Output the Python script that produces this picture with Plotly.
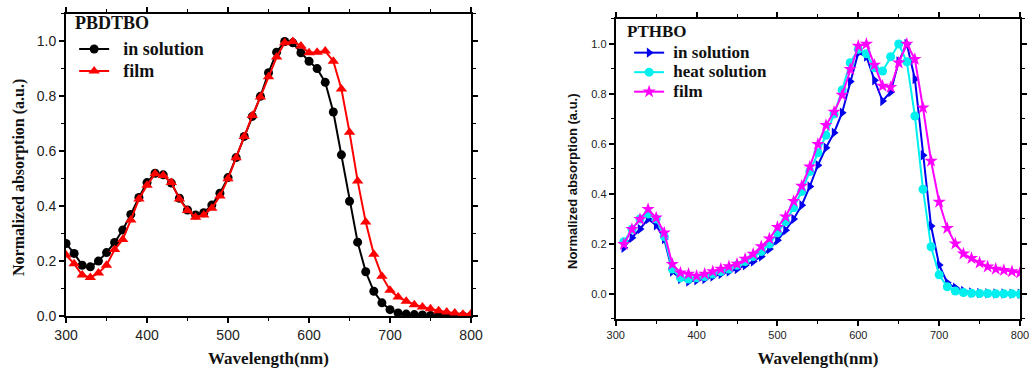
import plotly.graph_objects as go

# ---------------- data: PBDTBO ----------------
wl_left = list(range(300, 801, 10))
pbdtbo_solution = [0.264, 0.228, 0.185, 0.179, 0.200, 0.231, 0.268, 0.313, 0.370, 0.432,
                   0.486, 0.520, 0.514, 0.484, 0.429, 0.386, 0.368, 0.376, 0.404, 0.447,
                   0.504, 0.577, 0.654, 0.727, 0.800, 0.886, 0.961, 1.000, 0.995, 0.959,
                   0.928, 0.901, 0.851, 0.743, 0.587, 0.418, 0.269, 0.161, 0.090, 0.048,
                   0.023, 0.011, 0.007, 0.005, 0.004, 0.002, 0.001, 0.001, 0.000, 0.000,
                   0.000]
pbdtbo_film = [0.222, 0.190, 0.149, 0.140, 0.157, 0.185, 0.242, 0.279, 0.350, 0.426,
               0.476, 0.518, 0.512, 0.486, 0.426, 0.384, 0.360, 0.368, 0.392, 0.437,
               0.500, 0.576, 0.654, 0.730, 0.798, 0.871, 0.943, 0.995, 1.000, 0.983,
               0.959, 0.961, 0.965, 0.928, 0.827, 0.669, 0.492, 0.342, 0.225, 0.145,
               0.094, 0.069, 0.054, 0.041, 0.033, 0.026, 0.019, 0.015, 0.011, 0.006,
               0.008]

# ---------------- data: PTHBO ----------------
wl_right = list(range(310, 801, 10))
pthbo_solution = [0.185, 0.225, 0.260, 0.300, 0.275, 0.220, 0.090, 0.060, 0.050, 0.055,
                  0.060, 0.070, 0.080, 0.090, 0.100, 0.115, 0.130, 0.150, 0.180, 0.215,
                  0.255, 0.300, 0.355, 0.430, 0.515, 0.585, 0.645, 0.725, 0.850, 0.965,
                  0.950, 0.855, 0.772, 0.808, 0.930, 1.000, 0.860, 0.555, 0.272, 0.116,
                  0.045, 0.025, 0.012, 0.006, 0.004, 0.003, 0.002, 0.002, 0.001, 0.001]
pthbo_heat = [0.209, 0.259, 0.300, 0.320, 0.300, 0.230, 0.100, 0.065, 0.060, 0.065,
              0.070, 0.080, 0.090, 0.100, 0.115, 0.130, 0.150, 0.170, 0.200, 0.245,
              0.290, 0.345, 0.410, 0.490, 0.565, 0.635, 0.720, 0.816, 0.925, 0.979,
              0.961, 0.905, 0.892, 0.949, 1.000, 0.929, 0.712, 0.419, 0.189, 0.077,
              0.029, 0.012, 0.006, 0.003, 0.002, 0.002, 0.001, 0.001, 0.001, 0.000]
pthbo_film = [0.199, 0.259, 0.299, 0.339, 0.305, 0.245, 0.119, 0.085, 0.080, 0.072,
              0.080, 0.090, 0.100, 0.110, 0.120, 0.140, 0.160, 0.190, 0.221, 0.267,
              0.309, 0.371, 0.432, 0.509, 0.599, 0.675, 0.728, 0.796, 0.899, 0.992,
              1.000, 0.916, 0.832, 0.827, 0.925, 1.000, 0.939, 0.745, 0.532, 0.368,
              0.263, 0.201, 0.161, 0.143, 0.125, 0.109, 0.100, 0.095, 0.090, 0.085]

x_ticks = [300, 400, 500, 600, 700, 800]
y_ticks = [0.0, 0.2, 0.4, 0.6, 0.8, 1.0]

SERIF = "Liberation Serif, Times New Roman, serif"
NARROW = "Liberation Sans Narrow, Arial Narrow, Liberation Sans, Arial, sans-serif"
SANS = "Liberation Sans, Arial, sans-serif"

fig = go.Figure()

def add(x, y, name, px, pad, color, symbol, size, xa, ya, legend):
    fig.add_trace(go.Scatter(
        x=x, y=y,
        name='<span style="font-size:%dpx">%s<b>%s</b></span>' % (px, "&nbsp;" * pad, name),
        mode="lines+markers",
        line=dict(color=color, width=2),
        marker=dict(color=color, symbol=symbol, size=size, line=dict(width=0)),
        xaxis=xa, yaxis=ya, legend=legend))

add(wl_left, pbdtbo_solution, "in solution", 18, 2, "#000000", "circle", 9, "x", "y", "legend")
add(wl_left, pbdtbo_film, "film", 18, 2, "#ff0000", "triangle-up", 10, "x", "y", "legend")
add(wl_right, pthbo_solution, "in solution", 17, 1, "#0000ee", "triangle-right", 9, "x2", "y2", "legend2")
add(wl_right, pthbo_heat, "heat solution", 17, 1, "#00f0f0", "circle", 9, "x2", "y2", "legend2")
add(wl_right, pthbo_film, "film", 17, 1, "#ff00ff", "star", 10, "x2", "y2", "legend2")

base = dict(showline=True, linecolor="black", linewidth=2, mirror="ticks",
            ticks="outside", ticklen=5, tickwidth=1.5, tickcolor="black",
            showgrid=False, zeroline=False, automargin=False)

def minor(d):
    return dict(dtick=d, ticks="outside", ticklen=3, tickwidth=1, tickcolor="black")

fig.update_layout(
    width=1030, height=368, margin=dict(l=0, r=0, t=0, b=0),
    paper_bgcolor="white", plot_bgcolor="white",
    xaxis=dict(domain=[0.0641, 0.4573], range=[300, 800], tickvals=x_ticks, minor=minor(50),
               tickfont=dict(family=NARROW, size=14, color="#222"),
               title=dict(text="<b>Wavelength(nm)</b>", font=dict(family=SERIF, size=17, color="#111")),
               anchor="y", **base),
    yaxis=dict(domain=[0.1413, 0.962], range=[0, 1.1], tickvals=y_ticks, tickformat=".1f", minor=minor(0.1),
               tickfont=dict(family=NARROW, size=14, color="#222"),
               anchor="x", **base),
    xaxis2=dict(domain=[0.5978, 0.9903], range=[300, 800], tickvals=x_ticks, minor=minor(50),
                tickfont=dict(family=NARROW, size=11, color="#222"),
                title=dict(text="<b>Wavelength(nm)</b>", font=dict(family=SERIF, size=17, color="#111")),
                anchor="y2", **base),
    yaxis2=dict(domain=[0.1332, 0.9484], range=[-0.1, 1.1], tickvals=y_ticks, tickformat=".1f", minor=minor(0.1),
                tickfont=dict(family=NARROW, size=11, color="#222"),
                anchor="x2", **base),
    legend=dict(x=0.072, y=0.91, xanchor="left", yanchor="top",
                bgcolor="rgba(0,0,0,0)",
                font=dict(family=SERIF, size=14.5, color="#111"),
                tracegroupgap=0),
    legend2=dict(x=0.6108, y=0.897, xanchor="left", yanchor="top",
                 bgcolor="rgba(0,0,0,0)",
                 font=dict(family=SERIF, size=12.7, color="#111"),
                 tracegroupgap=0),
    showlegend=True,
    annotations=[
        dict(text="<b>PBDTBO</b>", x=0.0709, y=1 - 23 / 368, xref="paper", yref="paper",
             xanchor="left", yanchor="middle", showarrow=False,
             font=dict(family=SERIF, size=18, color="#111")),
        dict(text="<b>PTHBO</b>", x=0.6068, y=1 - 32 / 368, xref="paper", yref="paper",
             xanchor="left", yanchor="middle", showarrow=False,
             font=dict(family=SERIF, size=17, color="#111")),
        dict(text="<b>Normalized absorption (a.u.)</b>", x=19 / 1030, y=1 - 178 / 368,
             xref="paper", yref="paper", xanchor="center", yanchor="middle",
             textangle=-90, showarrow=False,
             font=dict(family=SERIF, size=16, color="#111")),
        dict(text="<b>Normalized absorption (a.u.)</b>", x=572 / 1030, y=1 - 181 / 368,
             xref="paper", yref="paper", xanchor="center", yanchor="middle",
             textangle=-90, showarrow=False,
             font=dict(family=SANS, size=13, color="#111")),
    ],
)

fig.write_html("out.html")
